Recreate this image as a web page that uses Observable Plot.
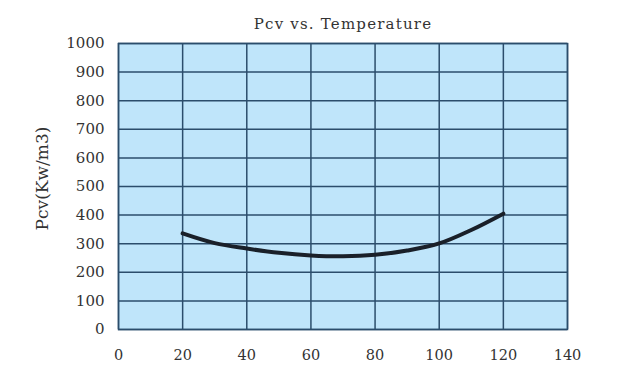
<!DOCTYPE html>
<html><head><meta charset="utf-8">
<script src="https://cdn.jsdelivr.net/npm/d3@7"></script>
<script src="https://cdn.jsdelivr.net/npm/@observablehq/plot@0.6"></script>
<style>body{margin:0;background:#fff;} svg{display:block;}</style>
</head><body><div id="chart"></div>
<script>
const temperature = [20, 30, 40, 50, 60, 70, 80, 90, 100, 110, 120];
const pcv = [336, 302, 283, 268, 259, 256, 261, 276, 301, 348, 405];
const xTicks = [0, 20, 40, 60, 80, 100, 120, 140];
const yTicks = [0, 100, 200, 300, 400, 500, 600, 700, 800, 900, 1000];
const title = "Pcv vs. Temperature";
const yLabel = "Pcv(Kw/m3)";

const data = temperature.map((t, i) => ({t, p: pcv[i]}));
const grid = "#2b4d6b";
const font = "DejaVu Serif, serif";

const chart = Plot.plot({
  width: 620, height: 365,
  marginLeft: 118, marginRight: 53, marginTop: 43, marginBottom: 36,
  style: {fontFamily: font, fontSize: "14px", color: "#333", background: "#fff"},
  x: {domain: [0, 140], ticks: xTicks, tickSize: 0, label: null},
  y: {domain: [0, 1000], ticks: yTicks, tickSize: 0, label: null},
  marks: [
    Plot.frame({fill: "#bfe5fa", stroke: "none"}),
    Plot.gridX(xTicks, {stroke: grid, strokeOpacity: 1, strokeWidth: 1.5}),
    Plot.gridY(yTicks, {stroke: grid, strokeOpacity: 1, strokeWidth: 1.5}),
    Plot.frame({stroke: grid, strokeWidth: 1.5}),
    Plot.axisX({ticks: xTicks, tickSize: 0, tickPadding: 20, fontSize: 14.5, tickFormat: "d", fill: "#333"}),
    Plot.axisY({ticks: yTicks, tickSize: 0, tickPadding: 14, fontSize: 15, tickFormat: "d", label: null, fill: "#333"}),
    Plot.line(data, {x: "t", y: "p", curve: "catmull-rom", stroke: "#1a2029", strokeWidth: 4}),
    Plot.text([title], {frameAnchor: "top", dy: -25, fontSize: 15, fill: "#333", fontFamily: font}),
    Plot.text([yLabel], {frameAnchor: "left", textAnchor: "middle", dx: -76, dy: -8, rotate: -90, fontSize: 17, fill: "#333", fontFamily: font})
  ]
});
chart.querySelectorAll("text").forEach(t => { if (t.textContent === title) t.style.letterSpacing = "1.2px"; });
document.getElementById("chart").appendChild(chart);
</script></body></html>
